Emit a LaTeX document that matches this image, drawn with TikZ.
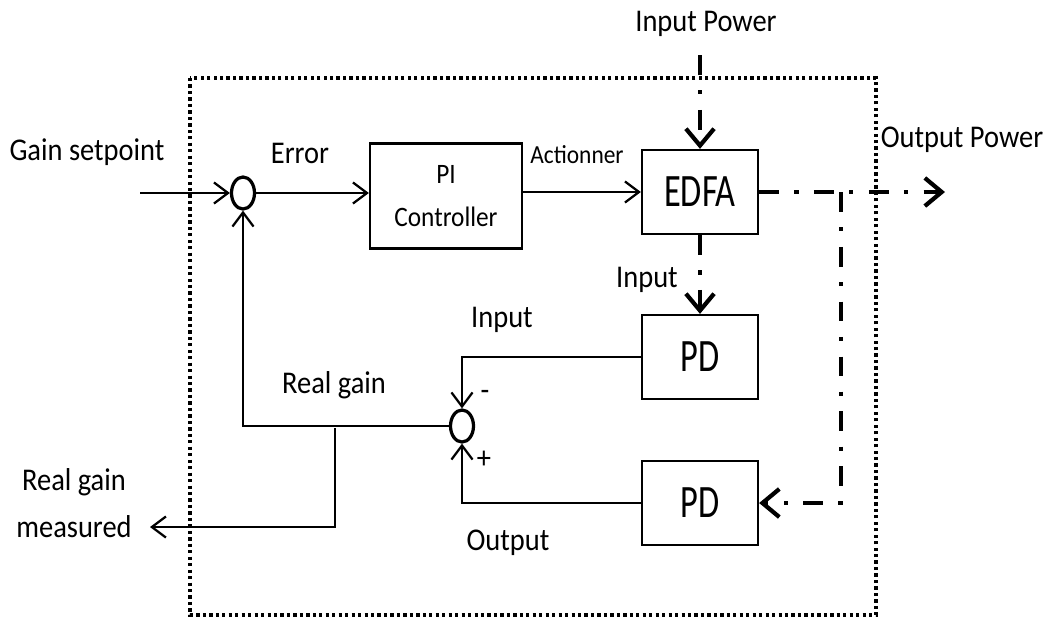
\documentclass[tikz,border=0pt]{standalone}
\usepackage{fontspec}
\setmainfont{Carlito}[FakeStretch=0.9]
\newfontfamily\blockfont{Carlito}[FakeStretch=0.74]
\usetikzlibrary{arrows.meta,positioning,shapes.geometric}

\begin{document}
\begin{tikzpicture}[x=0.025cm, y=-0.025cm,
  >={Straight Barb[length=10pt,width=15pt]},
  block/.style={draw, line width=1.6pt, minimum width=2.9cm, minimum height=2.1cm,
    font=\blockfont\fontsize{33}{36}\selectfont},
  sumjunc/.style={draw, ellipse, line width=2.3pt, minimum width=0.575cm,
    minimum height=0.8cm, inner sep=0pt},
  sig/.style={line width=1.6pt},
  power/.style={line width=3pt, dash pattern=on 14pt off 11pt on 3pt off 11pt,
    >={Straight Barb[length=12pt,width=20pt]}},
  lbl/.style={font=\fontsize{22.5}{33}\selectfont, align=center, inner sep=1pt}]
  \useasboundingbox (0,0) rectangle (1046,621);
  % loop frame
  \draw[line width=2.6pt, dash pattern=on 2.3pt off 2.3pt] (190,78) rectangle (876,615);
  % blocks
  \node[sumjunc] (sum1) at (243,193) {};
  \node[draw, line width=1.6pt, minimum width=3.8cm, minimum height=2.625cm, align=center,
    font=\fontsize{20}{30}\selectfont] (pic) at (446,196) {PI\\Controller};
  \node[block] (edfa) at (700,192) {EDFA};
  \node[block] (pdin) at (700,357) {PD};
  \node[block] (pdout) at (700,503) {PD};
  \node[sumjunc] (sum2) at (462,426) {};
  % labels
  \node[lbl] (lsetp) at (87,152) {Gain setpoint};
  \node[lbl] (lerr) at (300,153) {Error};
  \node[lbl, font=\fontsize{18.5}{20}\selectfont] (lact) at (577,155) {Actionner};
  \node[lbl] (lpin) at (706,24) {Input Power};
  \node[lbl] (lpout) at (962,140) {Output Power};
  \node[lbl] (linA) at (647,280) {Input};
  \node[lbl] (linB) at (502,320) {Input};
  \node[lbl] (lreal) at (334,385) {Real gain};
  \node[lbl] (lminus) at (485,395) {-};
  \node[lbl] (lplus) at (484,460) {+};
  \node[lbl] (lout) at (508,543) {Output};
  \node[lbl] (lmeas) at (74,503) {Real gain\\measured};
  % free ends
  \coordinate (setp) at (140,193);
  \coordinate (meas) at (150,527);
  \coordinate (branch) at (335,428);
  \coordinate (pinsrc) at (700,55);
  \coordinate (pouttip) at (945,192);
  \coordinate (tap) at (841,192);
  % signal paths
  \draw[sig,->] (setp) -- (sum1.west);
  \draw[sig,->] (sum1.east) -- (pic.west |- sum1.east);
  \draw[sig,->] (pic.east |- edfa.west) -- (edfa.west);
  \draw[sig,->] (pdin.west) -| (sum2.north);
  \draw[sig,->] (pdout.west) -| (sum2.south);
  \draw[sig,->] (sum2.west) -| (sum1.south);
  \draw[sig,->] (branch) |- (meas);
  % optical power
  \draw[power,->] (pinsrc) -- (edfa.north);
  \draw[power,->] (edfa.south) -- (pdin.north);
  \draw[power,->] (edfa.east) -- (pouttip);
  \draw[power,->] (tap) |- (pdout.east);
\end{tikzpicture}
\end{document}
